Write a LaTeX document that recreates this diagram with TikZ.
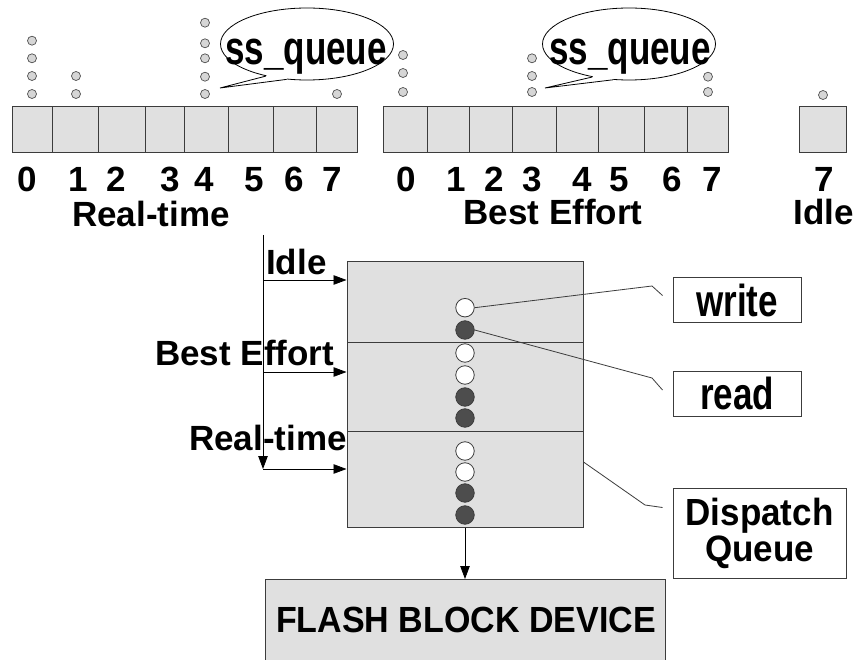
\documentclass[tikz,border=0pt]{standalone}
\usepackage{fontspec}
\setmainfont{Liberation Sans}
\usepackage{graphicx}
\usetikzlibrary{arrows.meta,shapes.geometric}
\definecolor{boxfill}{HTML}{E0E0E0}
\definecolor{edge}{HTML}{3C3C3C}
\definecolor{dotfill}{HTML}{D6D6D6}
\definecolor{darkreq}{HTML}{4D4D4D}
\newcommand{\vstretch}[2]{\scalebox{1}[#1]{#2}}
\newcommand{\tightlines}{\fontsize{35}{36}\selectfont\bfseries\lineskiplimit=-30pt\relax}

\begin{document}
\begin{tikzpicture}[x=1pt,y=-1pt,
  font=\fontsize{35}{40}\selectfont\bfseries,
  cell/.style={draw=edge,fill=boxfill,line width=1pt,inner sep=0pt,minimum height=46pt,anchor=north west},
  minireq/.style={circle,draw=edge!90,fill=dotfill,line width=0.7pt,inner sep=0pt,minimum size=9pt},
  bubble/.style={ellipse,draw=black,line width=0.8pt,fill=white,inner sep=0pt,minimum width=173pt,minimum height=72pt},
  lbl/.style={inner sep=0pt,anchor=base},
  wreq/.style={circle,draw=edge,fill=white,line width=0.8pt,inner sep=0pt,minimum size=18.5pt},
  rreq/.style={wreq,fill=darkreq},
  tagbox/.style={draw=edge,fill=white,line width=1pt,inner sep=0pt},
  link/.style={draw=edge,line width=0.8pt},
  arr/.style={draw=black,line width=0.8pt,-{Triangle[length=13pt,width=9.5pt]}}
]
\fill[white] (0,0) rectangle (854,660);
\useasboundingbox (0,0) rectangle (854,660);

% ---------- per-class software queues ----------
\foreach \a/\b [count=\i from 0] in {12/52,52/98,98/145,145/184,184/228,228/273,273/316,316/357}
  \node[cell,minimum width={(\b-\a)*1pt}] (rt\i) at (\a,106) {};
\foreach \a/\b [count=\i from 0] in {383/427,427/469,469/512,512/556,556/598,598/644,644/687,687/728}
  \node[cell,minimum width={(\b-\a)*1pt}] (be\i) at (\a,106) {};
\node[cell,minimum width=47pt] (id7) at (799,106) {};

% priority numbers
\foreach \x [count=\i from 0] in {27,78,116,170,204,254,294,332}
  \node[lbl] (rtn\i) at (\x,192) {\i};
\foreach \x [count=\i from 0] in {406,456,494,532,582,619,672,712}
  \node[lbl] (ben\i) at (\x,192) {\i};
\node[lbl] (idn7) at (824,192) {7};

\node[lbl] (rtname) at (151,227) {Real-time};
\node[lbl] (bename) at (553,225) {Best Effort};
\node[lbl] (idname) at (824,225) {Idle};

% pending requests above the queues
\foreach \y [count=\k] in {40.7,58.3,76,94} \node[minireq] (qa\k) at (32,\y) {};
\foreach \y [count=\k] in {76,94} \node[minireq] (qb\k) at (76,\y) {};
\foreach \y [count=\k] in {22.7,43.3,58.3,76.7,94} \node[minireq] (qc\k) at (205,\y) {};
\node[minireq] (qd1) at (337,94) {};
\foreach \y [count=\k] in {55,73,92} \node[minireq] (qe\k) at (403,\y) {};
\foreach \y [count=\k] in {58.3,76,92} \node[minireq] (qf\k) at (532,\y) {};
\foreach \y [count=\k] in {76.7,92} \node[minireq] (qg\k) at (708,\y) {};
\node[minireq] (qh1) at (823,95) {};

% speech bubbles
\node[bubble] (bub1) at (307,44) {};
\coordinate (tip1) at (220,88);
\fill[white] (bub1.218) -- (tip1) -- (bub1.240) -- (bub1.center) -- cycle;
\draw[line width=0.8pt] (bub1.218) -- (tip1) -- (bub1.240);
\node[lbl] (bubtxt1) at (306,65) {\vstretch{1.35}{ss\_queue}};

\node[bubble] (bub2) at (629,44) {};
\coordinate (tip2) at (545,88);
\fill[white] (bub2.222) -- (tip2) -- (bub2.246) -- (bub2.center) -- cycle;
\draw[line width=0.8pt] (bub2.222) -- (tip2) -- (bub2.246);
\node[lbl] (bubtxt2) at (630,65) {\vstretch{1.35}{ss\_queue}};

% ---------- dispatch queue ----------
\node[draw=edge,fill=boxfill,line width=1pt,inner sep=0pt,minimum width=236pt,minimum height=265pt] (dbox) at (465,394.5) {};
\coordinate (s1) at (347,342);
\coordinate (s2) at (347,431);
\draw[edge,line width=1pt] (s1) -- (s1 -| dbox.east);
\draw[edge,line width=1pt] (s2) -- (s2 -| dbox.east);

\foreach \y/\st [count=\k] in {307.7/wreq,330/rreq,353/wreq,375/wreq,397/rreq,418/rreq,451/wreq,472/wreq,493/rreq,515/rreq}
  \node[\st] (c\k) at (465,\y) {};

% class feeds
\coordinate (vtop) at (263,235);
\coordinate (fidle) at (263,280);
\coordinate (fbe) at (263,372);
\coordinate (frt) at (263,469);
\draw[arr] (vtop) -- (frt);
\draw[arr] (fidle) -- (fidle -| dbox.west);
\draw[arr] (fbe) -- (fbe -| dbox.west);
\draw[arr] (frt) -- (frt -| dbox.west);

\node[lbl,anchor=base west] (lidle) at (266,275) {Idle};
\node[lbl,anchor=base west] (lbe) at (155,365) {Best Effort};
\node[lbl,anchor=base west] (lrt) at (189,450) {Real-time};

% callouts
\node[tagbox,minimum width=128pt,minimum height=45pt] (wbox) at (737,300.5) {\vstretch{1.28}{write}};
\node[tagbox,minimum width=128pt,minimum height=45pt] (rbox) at (737,393.5) {\vstretch{1.28}{read}};
\node[tagbox,minimum width=173pt,minimum height=90pt,align=center,font=\tightlines] (dqbox) at (759.5,533)
      {\vstretch{1.08}{Dispatch}\\\vstretch{1.05}{Queue}};

\coordinate (wk) at (652,286);
\coordinate (rk) at (652,378);
\coordinate (dk) at (645,505);
\draw[link] (c1.east) -- (wk) -- ([xshift=-10pt,yshift=5pt]wbox.west);
\draw[link] (c2.east) -- (rk) -- ([xshift=-10pt,yshift=3.5pt]rbox.west);
\draw[link] ([yshift=-67.5pt]dbox.east) -- (dk) -- ([xshift=-10pt,yshift=-20pt]dqbox.north west);

% ---------- device ----------
\node[draw=edge,fill=boxfill,line width=1pt,inner sep=0pt,minimum width=400pt,minimum height=110pt,anchor=north] (flash) at (465,579) {};
\node[lbl,font=\fontsize{34}{40}\selectfont\bfseries] (flashtxt) at (466,632) {\vstretch{1.07}{FLASH BLOCK DEVICE}};
\draw[arr] (dbox.south) -- (flash.north);
\end{tikzpicture}
\end{document}
